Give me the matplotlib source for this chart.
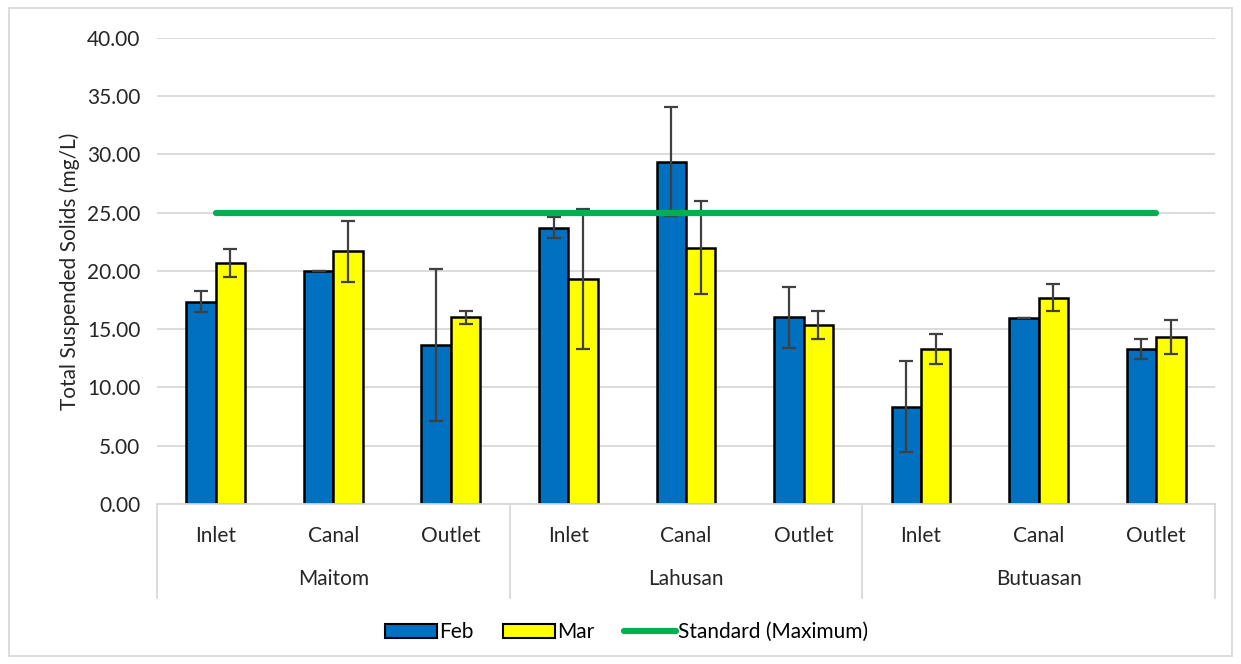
import numpy as np
import matplotlib
matplotlib.use('Agg')
import matplotlib.pyplot as plt
from matplotlib.patches import Rectangle
from matplotlib.lines import Line2D

plt.rcParams['font.family'] = ['Lato', 'DejaVu Sans']

# Data
sites = ['Maitom', 'Lahusan', 'Butuasan']
points = ['Inlet', 'Canal', 'Outlet']
feb = [17.37, 20.00, 13.65, 23.72, 29.38, 16.03, 8.33, 16.00, 13.28]
feb_err = [0.93, 0.0, 6.50, 0.93, 4.65, 2.62, 3.90, 0.0, 0.85]
mar = [20.66, 21.69, 16.02, 19.31, 22.00, 15.33, 13.30, 17.71, 14.31]
mar_err = [1.20, 2.60, 0.57, 5.97, 3.98, 1.19, 1.32, 1.17, 1.46]
standard = 25.0

blue = '#0070C0'
yellow = '#FFFF00'
green = '#00B050'
grid_c = '#D9D9D9'
txt_c = '#262626'

x = np.arange(len(feb))
w = 0.25

fig = plt.figure(figsize=(12.41, 6.64), dpi=100)
ax = fig.add_axes([0.1265, 0.241, 0.8525, 0.702])

ax.bar(x - w / 2, feb, w, color=blue, edgecolor='black', linewidth=1.8, zorder=2)
ax.bar(x + w / 2, mar, w, color=yellow, edgecolor='black', linewidth=1.8, zorder=2)
ax.errorbar(x - w / 2, feb, yerr=feb_err, fmt='none', ecolor='#404040',
            elinewidth=1.6, capsize=5, capthick=1.6, zorder=3)
ax.errorbar(x + w / 2, mar, yerr=mar_err, fmt='none', ecolor='#404040',
            elinewidth=1.6, capsize=5, capthick=1.6, zorder=3)
ax.plot(x, [standard] * len(x), color=green, linewidth=4.5,
        solid_capstyle='round', zorder=4)

ax.set_xlim(-0.5, len(x) - 0.5)
ax.set_ylim(0, 40)
ax.set_yticks(np.arange(0, 41, 5))
ax.set_yticklabels([f'{v:.2f}' for v in np.arange(0, 41, 5)], fontsize=15, color=txt_c)
ax.yaxis.grid(True, color=grid_c, linewidth=1.3, zorder=0)
ax.set_axisbelow(True)
ax.tick_params(axis='y', length=0, pad=12)
ax.tick_params(axis='x', length=0, labelbottom=False)
for s in ['top', 'right', 'left']:
    ax.spines[s].set_visible(False)
ax.spines['bottom'].set_color(grid_c)
ax.spines['bottom'].set_linewidth(1.3)
ax.set_ylabel('Total Suspended Solids (mg/L)', fontsize=15, color=txt_c, labelpad=5)

# hierarchical category axis
trans = ax.get_xaxis_transform()
for i in x:
    ax.text(i, -0.068, points[i % 3], transform=trans, ha='center', va='center',
            fontsize=15, color=txt_c)
for g, name in enumerate(sites):
    ax.text(g * 3 + 1, -0.16, name, transform=trans, ha='center', va='center',
            fontsize=15, color=txt_c)
for b in [-0.5, 2.5, 5.5, 8.5]:
    ax.plot([b, b], [0, -0.202], transform=trans, color=grid_c, linewidth=1.3,
            clip_on=False)

handles = [Rectangle((0, 0), 1, 1, facecolor=blue, edgecolor='black', linewidth=1.5),
           Rectangle((0, 0), 1, 1, facecolor=yellow, edgecolor='black', linewidth=1.5),
           Line2D([0], [0], color=green, linewidth=4.5, solid_capstyle='round')]
fig.legend(handles, ['Feb', 'Mar', 'Standard (Maximum)'], loc='center',
           bbox_to_anchor=(0.505, 0.048), ncol=3, frameon=False, fontsize=15,
           handlelength=2.5, handletextpad=0.1, columnspacing=1.4)

# chart border
fig.patches.append(Rectangle((0.007, 0.012), 0.986, 0.976, transform=fig.transFigure,
                             fill=False, edgecolor=grid_c, linewidth=1.3))

fig.savefig('out.png', dpi=100)
